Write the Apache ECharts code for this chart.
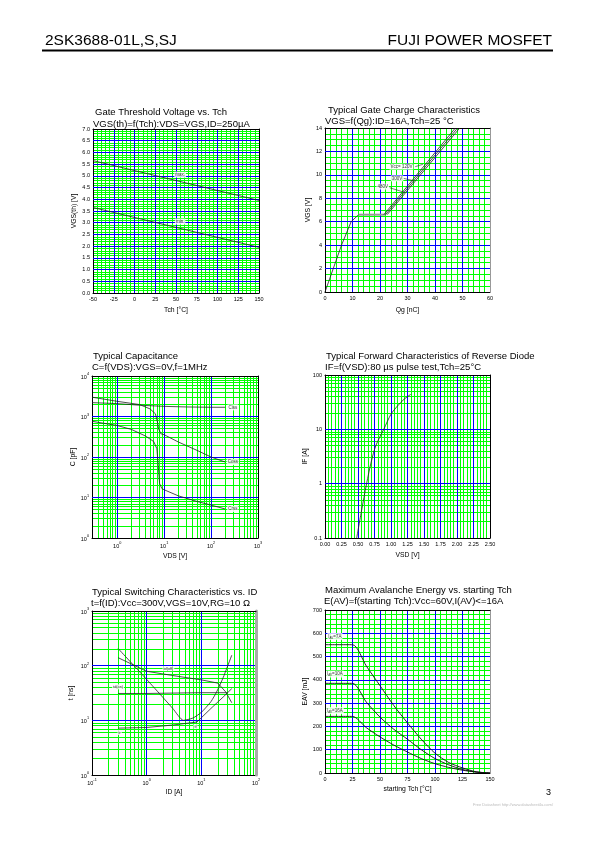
<!DOCTYPE html>
<html><head><meta charset="utf-8">
<script src="https://cdn.jsdelivr.net/npm/echarts@6/dist/echarts.min.js"></script>
<style>html,body{margin:0;padding:0;background:#fff}#c{width:595px;height:842px}</style>
</head><body><div id="c"></div>
<script>
// ===== DATA =====
// Chart 1: Gate threshold voltage vs Tch
const vthTch = [-50, 150];
const vthMax = [5.65, 3.95];
const vthMin = [3.65, 1.95];
const vthLblText = ['max.', 'min.'];
const vthLblTch = [55, 55];
const vthLblV = [5.05, 3.05];

// Chart 2: Gate charge
const qgRiseQ = [0, 3, 6, 9.5, 12.2];
const qgRiseV = [0, 2, 4, 6, 6.6];
const qgPlatQ = [12.2, 22];
const qgPlatV = [6.6, 6.6];
const qg120Q = [21.4, 47.4];
const qg300Q = [22.0, 48.2];
const qg480Q = [22.6, 49.0];
const qgLineV = [6.6, 14];
const qgLblText = ['Vcc= 120V', '300V', '480V'];
const qgLblQ = [27.8, 26.2, 21.0];
const qgLblV = [10.7, 9.7, 9.0];
const qgLeadFromQ = [32.8, 28.6, 23.5];
const qgLeadFromV = [10.7, 9.7, 8.9];
const qgLeadToQ = [35.6, 32.2, 29.0];
const qgLeadToV = [10.9, 9.5, 8.5];

// Chart 3: Capacitance
const cissV = [0.29, 1, 3, 10, 30, 100, 200];
const cissC = [2200, 2080, 1900, 1780, 1720, 1690, 1690];
const cossV = [0.29, 1, 3, 5, 6.5, 7.2, 7.6, 8.5, 10, 20, 50, 100, 200];
const cossC = [3000, 2370, 1970, 1540, 1170, 730, 500, 375, 355, 235, 146, 100, 75];
const crssV = [0.29, 1, 2, 4, 6, 7, 7.5, 8, 9, 10, 20, 50, 100, 200];
const crssC = [760, 600, 480, 330, 240, 160, 60, 22, 16.5, 15.5, 11, 8, 6.5, 5.2];
const capLblText = ['Ciss', 'Coss', 'Crss'];
const capLblV = [290, 290, 290];
const capLblC = [1680, 75, 5.2];

// Chart 4: Reverse diode forward characteristic
const vsd = [0.48, 0.55, 0.63, 0.7, 0.77, 0.89, 1.0, 1.1, 1.2, 1.3];
const ifA = [0.1, 0.3, 1, 2.5, 5, 10, 19, 27, 36, 44];

// Chart 5: Switching times
const tdOffI = [0.3, 1, 3, 10, 20, 28, 36];
const tdOffT = [140, 79, 66, 55, 48, 33, 21];
const tdOnI = [0.3, 1, 3, 10, 30];
const tdOnT = [31, 31, 31.5, 32, 32];
const trI = [0.3, 1, 3, 8.3, 15, 25, 36];
const trT = [7.2, 7.4, 8.2, 9.3, 16.5, 26.6, 38];
const tfI = [0.3, 1, 2, 3, 4.7, 7, 10, 15, 19, 25, 36];
const tfT = [206, 56, 26, 16.5, 10, 11, 14, 22, 33, 60, 155];
const swLblText = ['td(off)', 'td(on)', 'tr', 'tf'];
const swLblI = [2.5, 0.3, 0.32, 7.8];
const swLblT = [88, 41, 6, 7.7];

// Chart 6: Avalanche energy
const eavTch = [0, 25, 37.5, 50, 62.5, 75, 87.5, 100, 112.5, 125, 137.5, 150];
const eav7A = [551, 551, 460, 375, 290, 215, 145, 85, 45, 22, 5, 0];
const eav10A = [385, 385, 305, 240, 188, 145, 100, 62, 35, 15, 4, 0];
const eav16A = [243, 243, 195, 155, 120, 90, 62, 40, 24, 12, 4, 0];
const eavLblText = ['{a|I}{s|AV}{a|=7A}', '{a|I}{s|AV}{a|=10A}', '{a|I}{s|AV}{a|=16A}'];
const eavLblTch = [9, 9, 9];
const eavLblE = [586, 425, 268];

// ===== RENDER =====
const F = 'Liberation Sans';
const GREEN = '#00ff00', BLUE = '#0000ff';
const pairs = (xs, ys) => xs.map((x, i) => [x, ys[i]]);

function logLabel(v) {
  const l = Math.log10(v), e = Math.round(l);
  if (Math.abs(l - e) > 1e-6) return '';
  return '{b|10}{s|' + (e < 0 ? '-' + (-e) : e) + '}';
}
function logPlain(v) {
  const l = Math.log10(v), e = Math.round(l);
  if (Math.abs(l - e) > 1e-6) return '';
  return e < 0 ? v.toFixed(-e) : String(Math.round(v));
}
const logRich = {
  b: {fontSize: 5.5, fontFamily: F, color: '#000', lineHeight: 8, verticalAlign: 'bottom'},
  s: {fontSize: 3.8, fontFamily: F, color: '#000', lineHeight: 8, verticalAlign: 'top'}
};
function minorLogValues(min, max) {
  const out = [];
  for (let e = Math.floor(Math.log10(min)); e <= Math.ceil(Math.log10(max)); e++) {
    for (let m = 2; m <= 9; m++) {
      const v = m * Math.pow(10, e);
      if (v > min * 1.0001 && v < max * 0.9999) out.push(v);
    }
  }
  return out;
}

const grids = [
  {left: 93, top: 129, width: 166, height: 164},
  {left: 325, top: 128, width: 165, height: 164},
  {left: 92, top: 376, width: 166, height: 162},
  {left: 325, top: 375, width: 165, height: 163},
  {left: 92, top: 611, width: 164, height: 164},
  {left: 325, top: 610, width: 165, height: 163}
];

const xAxes = [], yAxes = [], series = [];

function axisPair(dim, g, o) {
  const isX = dim === 'x';
  const base = {gridIndex: g, type: o.type, min: o.min, max: o.max};
  if (o.type === 'value') base.interval = o.interval;
  if (o.type === 'log') base.logBase = 10;
  const A = Object.assign({}, base, {
    position: isX ? 'bottom' : 'left', z: 1,
    axisLine: {show: true, onZero: false, lineStyle: {color: '#000', width: 1}},
    axisTick: {show: false},
    axisLabel: {show: true, fontSize: 5.5, fontFamily: F, color: '#000', margin: o.labelMargin || 3,
      formatter: o.fmt, rich: o.rich, showMinLabel: true, showMaxLabel: true, hideOverlap: false},
    splitLine: {show: false},
    name: o.name, nameLocation: 'middle', nameGap: o.nameGap, nameRotate: isX ? 0 : 90,
    nameTextStyle: {fontSize: 6.8, fontFamily: F, color: '#000'}
  });
  if (o.minor) {
    A.minorTick = {show: false, splitNumber: o.minor};
    A.minorSplitLine = {show: true, lineStyle: {color: GREEN, width: 1}};
  }
  const B = Object.assign({}, base, {
    position: isX ? 'top' : 'right', z: 3,
    axisLine: {show: true, onZero: false, lineStyle: {color: o.edgeColor || '#000', width: o.edgeWidth || 1}},
    axisTick: {show: false}, axisLabel: {show: false},
    splitLine: {show: true, showMinLine: false, showMaxLine: false, lineStyle: {color: BLUE, width: 1}}
  });
  return [A, B];
}

function addGrid(g, xo, yo) {
  xAxes.push(...axisPair('x', g, xo));
  yAxes.push(...axisPair('y', g, yo));
  if (xo.type === 'log') {
    const d = minorLogValues(xo.min, xo.max).map(v => ({coords: [[v, yo.min], [v, yo.max]]}));
    series.push({type: 'lines', coordinateSystem: 'cartesian2d', xAxisIndex: 2 * g, yAxisIndex: 2 * g,
      data: d, lineStyle: {color: GREEN, width: 1, opacity: 1}, z: 1, silent: true, animation: false});
  }
  if (yo.type === 'log') {
    const d = minorLogValues(yo.min, yo.max).map(v => ({coords: [[xo.min, v], [xo.max, v]]}));
    series.push({type: 'lines', coordinateSystem: 'cartesian2d', xAxisIndex: 2 * g, yAxisIndex: 2 * g,
      data: d, lineStyle: {color: GREEN, width: 1, opacity: 1}, z: 1, silent: true, animation: false});
  }
}

function curve(g, data, opts) {
  return Object.assign({type: 'line', xAxisIndex: 2 * g, yAxisIndex: 2 * g, data, symbol: 'none', showSymbol: false,
    lineStyle: {color: '#222', width: 0.8}, z: 5, silent: true, animation: false}, opts || {});
}
function labels(g, xs, ys, texts, size, rich) {
  return {type: 'scatter', xAxisIndex: 2 * g, yAxisIndex: 2 * g, symbolSize: 0, z: 6, silent: true, animation: false,
    data: xs.map((x, i) => ({value: [x, ys[i]], label: {formatter: texts[i]}})),
    label: {show: true, position: 'inside', fontSize: size, fontFamily: F, color: '#000',
      backgroundColor: '#fff', padding: [0.5, 1], rich: rich}};
}

// Chart 1
addGrid(0,
  {type: 'value', min: -50, max: 150, interval: 25, minor: 5, name: 'Tch [°C]', nameGap: 14},
  {type: 'value', min: 0, max: 7, interval: 0.5, minor: 5, name: 'VGS(th) [V]', nameGap: 15, fmt: v => v.toFixed(1)});
series.push(curve(0, pairs(vthTch, vthMax)));
series.push(curve(0, pairs(vthTch, vthMin)));
series.push(labels(0, vthLblTch, vthLblV, vthLblText, 4.5));

// Chart 2
addGrid(1,
  {type: 'value', min: 0, max: 60, interval: 10, minor: 5, name: 'Qg [nC]', nameGap: 15},
  {type: 'value', min: 0, max: 14, interval: 2, minor: 4, name: 'VGS [V]', nameGap: 12, edgeColor: '#999'});
series.push(curve(1, pairs(qgRiseQ, qgRiseV)));
series.push(curve(1, pairs(qgPlatQ, qgPlatV), {lineStyle: {color: '#999', width: 2}}));
series.push(curve(1, pairs(qg120Q, qgLineV)));
series.push(curve(1, pairs(qg300Q, qgLineV)));
series.push(curve(1, pairs(qg480Q, qgLineV)));
qgLblText.forEach((t, i) => series.push(curve(1, [[qgLeadFromQ[i], qgLeadFromV[i]], [qgLeadToQ[i], qgLeadToV[i]]], {lineStyle: {color: '#222', width: 0.6}})));
series.push(labels(1, qgLblQ, qgLblV, qgLblText, 4.5));

// Chart 3
addGrid(2,
  {type: 'log', min: 0.29, max: 1000, name: 'VDS [V]', nameGap: 15, fmt: logLabel, rich: logRich},
  {type: 'log', min: 1, max: 10000, name: 'C [pF]', nameGap: 15, fmt: logLabel, rich: logRich});
series.push(curve(2, pairs(cissV, cissC)));
series.push(curve(2, pairs(cossV, cossC)));
series.push(curve(2, pairs(crssV, crssC)));
series.push(labels(2, capLblV, capLblC, capLblText, 4.5));

// Chart 4
addGrid(3,
  {type: 'value', min: 0, max: 2.5, interval: 0.25, minor: 5, name: 'VSD [V]', nameGap: 14, fmt: v => v.toFixed(2)},
  {type: 'log', min: 0.1, max: 100, name: 'IF [A]', nameGap: 13, fmt: logPlain});
series.push(curve(3, pairs(vsd, ifA), {smooth: 0.3}));

// Chart 5
addGrid(4,
  {type: 'log', min: 0.1, max: 100, name: 'ID [A]', nameGap: 14, fmt: logLabel, rich: logRich},
  {type: 'log', min: 1, max: 1000, name: 't [ns]', nameGap: 17, fmt: logLabel, rich: logRich, edgeColor: '#aaa', edgeWidth: 3});
series.push(curve(4, pairs(tdOffI, tdOffT)));
series.push(curve(4, pairs(tdOnI, tdOnT)));
series.push(curve(4, pairs(trI, trT)));
series.push(curve(4, pairs(tfI, tfT), {smooth: 0.2}));
series.push(labels(4, swLblI, swLblT, swLblText, 3.8));

// Chart 6
addGrid(5,
  {type: 'value', min: 0, max: 150, interval: 25, minor: 5, name: 'starting Tch [°C]', nameGap: 13},
  {type: 'value', min: 0, max: 700, interval: 100, minor: 5, name: 'EAV [mJ]', nameGap: 15, edgeColor: '#999'});
series.push(curve(5, pairs(eavTch, eav7A), {smooth: 0.25, lineStyle: {color: '#111', width: 0.9}}));
series.push(curve(5, pairs(eavTch, eav10A), {smooth: 0.25, lineStyle: {color: '#111', width: 0.9}}));
series.push(curve(5, pairs(eavTch, eav16A), {smooth: 0.25, lineStyle: {color: '#111', width: 0.9}}));
series.push(labels(5, eavLblTch, eavLblE, eavLblText, 4.5, {
  a: {fontSize: 4.5, fontFamily: F, color: '#000'},
  s: {fontSize: 3, fontFamily: F, color: '#000', verticalAlign: 'bottom', lineHeight: 6}
}));

function txt(x, y, text, size, align, color) {
  return {type: 'text', x: x, y: y, silent: true,
    style: {text: text, fill: color || '#000', font: size + 'px "' + F + '"', align: align || 'left', verticalAlign: 'middle'}};
}
const graphics = [
  txt(45, 41, '2SK3688-01L,S,SJ', 15.5),
  txt(552, 41, 'FUJI POWER MOSFET', 15.5, 'right'),
  {type: 'line', silent: true, shape: {x1: 42, y1: 50.5, x2: 553, y2: 50.5}, style: {stroke: '#000', lineWidth: 2}},
  txt(95, 112.5, 'Gate Threshold Voltage vs. Tch', 9.5),
  txt(93, 124, 'VGS(th)=f(Tch):VDS=VGS,ID=250\u00b5A', 9.5),
  txt(328, 110, 'Typical Gate Charge Characteristics', 9.5),
  txt(325, 121.7, 'VGS=f(Qg):ID=16A,Tch=25 \u00b0C', 9.5),
  txt(93, 356.7, 'Typical Capacitance', 9.5),
  txt(92, 367.7, 'C=f(VDS):VGS=0V,f=1MHz', 9.5),
  txt(326, 356.3, 'Typical Forward Characteristics of Reverse Diode', 9.5),
  txt(325, 367, 'IF=f(VSD):80 \u00b5s pulse test,Tch=25\u00b0C', 9.5),
  txt(92, 592, 'Typical Switching Characteristics vs. ID', 9.5),
  txt(91, 603, 't=f(ID):Vcc=300V,VGS=10V,RG=10 \u03a9', 9.5),
  txt(325, 590.3, 'Maximum Avalanche Energy vs. starting Tch', 9.5),
  txt(324, 601.3, 'E(AV)=f(starting Tch):Vcc=60V,I(AV)<=16A', 9.5),
  txt(551, 793, '3', 9, 'right'),
  txt(553, 805, 'Free Datasheet http://www.datasheet4u.com/', 4, 'right', '#bbb')
];

const chart = echarts.init(document.getElementById('c'), null, {renderer: 'canvas', width: 595, height: 842});
chart.setOption({
  animation: false,
  backgroundColor: '#fff',
  textStyle: {fontFamily: F},
  grid: grids.map(g => Object.assign({containLabel: false, show: false}, g)),
  xAxis: xAxes,
  yAxis: yAxes,
  series: series,
  graphic: graphics
});
</script></body></html>
